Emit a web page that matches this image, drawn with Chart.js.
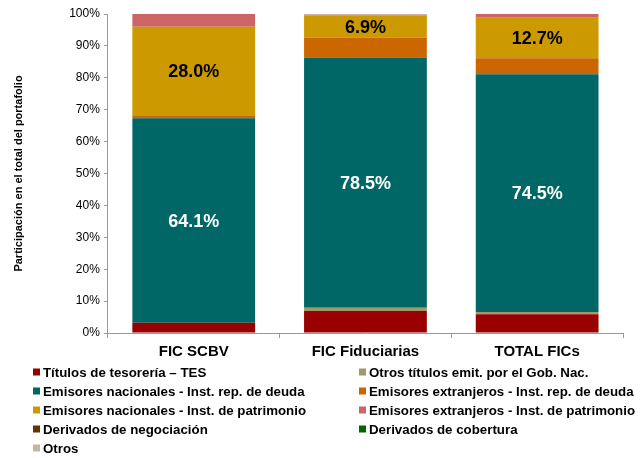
<!DOCTYPE html>
<html>
<head>
<meta charset="utf-8">
<script src="https://cdn.jsdelivr.net/npm/chart.js@4"></script>
<style>
  body { margin: 0; background: #fff; }
  #wrap { width: 641px; height: 458px; position: relative; }
</style>
</head>
<body>
<div id="wrap"><canvas id="chart"></canvas></div>
<script>
const categories = ["FIC SCBV", "FIC Fiduciarias", "TOTAL FICs"];
const yTicks = [0, 10, 20, 30, 40, 50, 60, 70, 80, 90, 100];

// participación (%) por tipo de inversión
const tes = [3.2, 6.9, 5.9];
const otrosGob = [0.0, 1.0, 0.7];
const nacDeuda = [64.1, 78.5, 74.5];
const extDeuda = [0.7, 6.2, 5.0];
const nacPatrimonio = [28.0, 6.9, 12.7];
const extPatrimonio = [4.0, 0.3, 1.2];
const derivNeg = [0.0, 0.0, 0.0];
const derivCob = [0.0, 0.0, 0.0];
const otros = [0.0, 0.2, 0.0];

const seriesNames = [
  "Títulos de tesorería – TES",
  "Otros títulos emit. por el Gob. Nac.",
  "Emisores nacionales - Inst. rep. de deuda",
  "Emisores extranjeros - Inst. rep. de deuda",
  "Emisores nacionales - Inst. de patrimonio",
  "Emisores extranjeros - Inst. de patrimonio",
  "Derivados de negociación",
  "Derivados de cobertura",
  "Otros"
];
const seriesValues = [tes, otrosGob, nacDeuda, extDeuda, nacPatrimonio, extPatrimonio, derivNeg, derivCob, otros];
const seriesColors = ["#990000", "#A09A66", "#006666", "#CC6600", "#CC9900", "#CC6666", "#663300", "#006600", "#C4B4A0"];
// which series get a value label, and in which colour
const labelColors = [null, null, "#ffffff", null, "#000000", null, null, null, null];

const font = "'Liberation Sans', Arial, sans-serif";

var datasets = seriesNames.map((name, i) => ({
  label: name,
  data: seriesValues[i],
  backgroundColor: seriesColors[i],
  borderWidth: 0,
  barPercentage: 1,
  categoryPercentage: 0.715
}));

const valueLabels = {
  id: "valueLabels",
  afterDatasetsDraw(chart) {
    const ctx = chart.ctx;
    ctx.save();
    ctx.font = "bold 18px " + font;
    ctx.textAlign = "center";
    ctx.textBaseline = "middle";
    chart.data.datasets.forEach((ds, i) => {
      if (!labelColors[i]) return;
      chart.getDatasetMeta(i).data.forEach((bar, j) => {
        const v = ds.data[j];
        if (!v) return;
        ctx.fillStyle = labelColors[i];
        ctx.fillText(v.toFixed(1) + "%", bar.x, (bar.y + bar.base) / 2 + 1);
      });
    });
    ctx.restore();
  }
};

// two-column legend under the plot
const gridLegend = {
  id: "gridLegend",
  afterDraw(chart) {
    const ctx = chart.ctx;
    ctx.save();
    ctx.font = "bold 13.3px " + font;
    ctx.textBaseline = "middle";
    chart.data.datasets.forEach((ds, i) => {
      const col = i % 2;
      const row = Math.floor(i / 2);
      const x = col === 0 ? 33 : 359;
      const y = 372 + row * 19;
      ctx.fillStyle = ds.backgroundColor;
      ctx.fillRect(x, y - 3.5, 7, 7);
      ctx.fillStyle = "#000";
      ctx.fillText(ds.label, x + 10, y + 1);
    });
    ctx.restore();
  }
};

new Chart(document.getElementById("chart"), {
  type: "bar",
  data: { labels: categories, datasets: datasets },
  plugins: [valueLabels, gridLegend],
  options: {
    responsive: true,
    maintainAspectRatio: false,
    animation: false,
    layout: { padding: { top: 14, left: 12, right: 18, bottom: 92 } },
    plugins: { legend: { display: false }, tooltip: { enabled: false } },
    scales: {
      x: {
        stacked: true,
        grid: { drawOnChartArea: false, color: "#999", tickLength: 5 },
        border: { color: "#999" },
        ticks: { color: "#000", font: { family: font, size: 15, weight: "bold" }, padding: 5 }
      },
      y: {
        stacked: true,
        min: 0,
        max: 100,
        afterBuildTicks: (axis) => { axis.ticks = yTicks.map((v) => ({ value: v })); },
        grid: { drawOnChartArea: false, color: "#999", tickLength: 4 },
        border: { color: "#999" },
        ticks: { color: "#000", font: { family: font, size: 12 }, padding: 4, callback: (v) => v + "%" },
        title: {
          display: true,
          text: "Participación en el total del portafolio",
          color: "#000",
          font: { family: font, size: 11, weight: "bold" },
          padding: { top: 0, bottom: 40 }
        }
      }
    }
  }
});
</script>
</body>
</html>
